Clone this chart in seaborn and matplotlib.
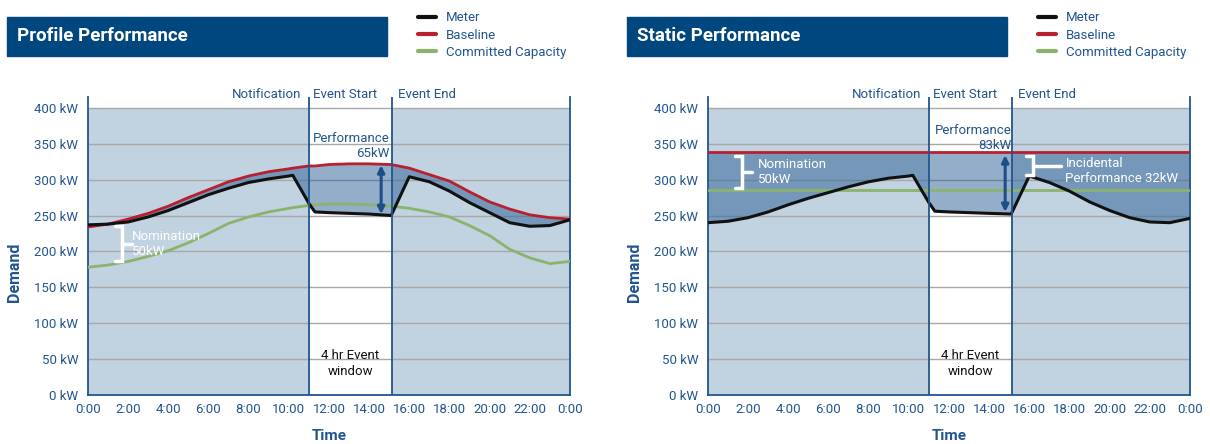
import matplotlib.pyplot as plt
import seaborn as sns
from matplotlib.patches import Rectangle

# time of day in hours, shared by all series
hours = [0, 1, 2, 3, 4, 5, 6, 7, 8, 9, 10, 10.2, 11, 11.3, 12, 13, 14, 15.1,
         16, 17, 18, 19, 20, 21, 22, 23, 24]
tick_hours = list(range(0, 25, 2))
tick_labels = ['0:00', '2:00', '4:00', '6:00', '8:00', '10:00', '12:00',
               '14:00', '16:00', '18:00', '20:00', '22:00', '0:00']
kw_ticks = list(range(0, 401, 50))
kw_labels = ['%d kW' % k for k in kw_ticks]

profile_meter = [237, 238, 241, 248, 257, 268, 279, 288, 296, 301, 305, 306,
                 267, 255, 254, 253, 252, 250, 304, 297, 284, 268, 254, 240,
                 235, 236, 244]
profile_baseline = [234, 238, 245, 253, 263, 275, 286, 297, 305, 311, 315, 316,
                    319, 319, 321, 322, 322, 321, 316, 307, 298, 283, 269, 259,
                    251, 247, 245]
profile_committed = [178, 181, 186, 193, 201, 212, 225, 239, 248, 255, 260, 261,
                     264, 265, 266, 266, 265, 263, 260, 255, 248, 236, 222, 203,
                     191, 183, 186]

static_meter = [240, 242, 247, 255, 265, 274, 282, 290, 297, 302, 305, 306,
                268, 256, 255, 254, 253, 252, 305, 296, 284, 269, 257, 247,
                241, 240, 246]
static_baseline = [338] * len(hours)
static_committed = [285] * len(hours)

event_start = 11
event_end = 15.15

BLUE = '#21558f'
BANNER = '#00467f'
SHADE = '#c1d2e0'
FILL = '#2a5f95'
GRID = '#a8a8a8'
RED = '#b8202f'
GREEN = '#8cb36b'
ARROW = '#1c4f8a'

sns.set_style('white')
plt.rcParams['font.family'] = ['Roboto', 'DejaVu Sans']

fig = plt.figure(figsize=(12.1, 4.44), dpi=100)


def bracket(ax, x, top, bot, arm):
    # white square bracket with a pointer in the middle
    ax.plot([x - 0.34, x, x, x - 0.34], [top, top, bot, bot], color='white',
            lw=2.5, solid_joinstyle='miter', zorder=6)
    ax.plot([x, x + arm], [(top + bot) / 2] * 2, color='white', lw=2.5, zorder=6)


def draw_panel(left, title, meter, baseline, committed):
    ax = fig.add_axes([left, 0.1104, 0.3983, 0.671])
    ax.set_xlim(0, 24)
    ax.set_ylim(0, 415)
    ax.axvspan(0, event_start, ymax=400 / 415, color=SHADE, lw=0, zorder=0)
    ax.axvspan(event_end, 24, ymax=400 / 415, color=SHADE, lw=0, zorder=0)
    ax.set_axisbelow(True)
    ax.grid(axis='y', color=GRID, lw=1)
    ax.fill_between(hours, meter, baseline, color=FILL, alpha=0.5, lw=0, zorder=2)
    sns.lineplot(x=hours, y=meter, color='#111111', lw=2.2, ax=ax,
                 label='Meter', zorder=5)
    sns.lineplot(x=hours, y=baseline, color=RED, lw=2, ax=ax,
                 label='Baseline', zorder=4)
    sns.lineplot(x=hours, y=committed, color=GREEN, lw=2, ax=ax,
                 label='Committed Capacity', zorder=3)

    for t in (event_start, event_end):
        ax.axvline(t, color=BLUE, lw=1.3, zorder=6)
    for side in ('left', 'right', 'bottom'):
        ax.spines[side].set_color(BLUE)
        ax.spines[side].set_linewidth(1.3)
    ax.spines['top'].set_visible(False)

    ax.set_xticks(tick_hours)
    ax.set_xticklabels(tick_labels)
    ax.set_yticks(kw_ticks)
    ax.set_yticklabels(kw_labels)
    ax.tick_params(axis='both', direction='inout', color=BLUE, labelcolor=BLUE,
                   labelsize=9.5, width=1.3)
    ax.tick_params(axis='y', length=12, pad=1)
    ax.tick_params(axis='x', length=8, pad=2)

    ax.set_ylabel('Demand', fontweight='bold', color=BLUE, fontsize=11.5)
    ax.yaxis.set_label_coords(-0.137, 0.413)
    ax.set_xlabel('Time', fontweight='bold', color=BLUE, fontsize=11)
    ax.xaxis.set_label_coords(0.5, -0.115)

    ax.text(event_start - 0.4, 418, 'Notification', ha='right', va='center',
            color=BLUE, fontsize=9.5, clip_on=False)
    ax.text(event_start + 0.22, 418, 'Event Start', ha='left', va='center',
            color=BLUE, fontsize=9.5, clip_on=False)
    ax.text(event_end + 0.27, 418, 'Event End', ha='left', va='center',
            color=BLUE, fontsize=9.5, clip_on=False)
    ax.text((event_start + event_end) / 2, 44, '4 hr Event\nwindow', ha='center',
            va='center', color='#111111', fontsize=9.5, linespacing=1.25)

    leg = ax.legend(loc='upper left', bbox_to_anchor=(left + 0.2727, 0.9745),
                    bbox_transform=fig.transFigure, frameon=False, fontsize=9.5,
                    labelcolor=BLUE, handlelength=1.4, handletextpad=0.7,
                    labelspacing=0.32, borderpad=0, borderaxespad=0)
    for line in leg.get_lines():
        line.set_linewidth(3)

    fig.patches.append(Rectangle((left - 0.0669, 0.8739), 0.314, 0.0878,
                                 transform=fig.transFigure, color=BANNER,
                                 zorder=0))
    fig.text(left - 0.0587, 0.918, title, color='white', fontweight='bold',
             fontsize=13.5, va='center', ha='left')
    return ax


ax1 = draw_panel(0.0727, 'Profile Performance', profile_meter,
                 profile_baseline, profile_committed)
ax1.annotate('', xy=(14.6, 252), xytext=(14.6, 320),
             arrowprops=dict(arrowstyle='<|-|>', color=ARROW, lw=2.2,
                             mutation_scale=10, shrinkA=0, shrinkB=0), zorder=7)
ax1.text(15.0, 347, 'Performance\n65kW', ha='right', va='center', color=BLUE,
         fontsize=9.5, multialignment='right', linespacing=1.2)
bracket(ax1, 1.68, 236, 186, 0.5)
ax1.text(2.2, 210, 'Nomination\n50kW', ha='left', va='center', color='white',
         fontsize=9.5, linespacing=1.2, zorder=6)

ax2 = draw_panel(0.5851, 'Static Performance', static_meter,
                 static_baseline, static_committed)
ax2.annotate('', xy=(14.8, 255), xytext=(14.8, 334),
             arrowprops=dict(arrowstyle='<|-|>', color=ARROW, lw=2.2,
                             mutation_scale=10, shrinkA=0, shrinkB=0), zorder=7)
ax2.text(15.1, 358, 'Performance\n83kW', ha='right', va='center', color=BLUE,
         fontsize=9.5, multialignment='right', linespacing=1.2)
bracket(ax2, 1.68, 333, 288, 0.5)
ax2.text(2.47, 310, 'Nomination\n50kW', ha='left', va='center', color='white',
         fontsize=9.5, linespacing=1.2, zorder=6)
bracket(ax2, 16.2, 333, 306, 1.4)
ax2.text(17.8, 312, 'Incidental\nPerformance 32kW', ha='left', va='center',
         color='white', fontsize=9.5, linespacing=1.2, zorder=6)

fig.savefig('out.png', dpi=100)
